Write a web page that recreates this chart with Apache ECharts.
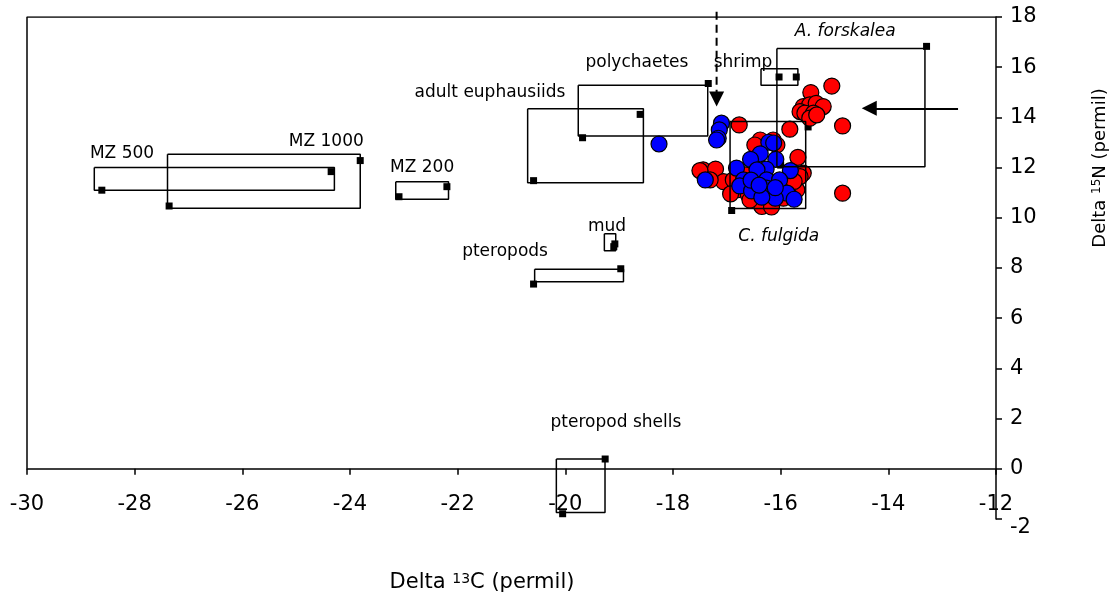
<!DOCTYPE html>
<html>
<head>
<meta charset="utf-8">
<script src="https://cdn.jsdelivr.net/npm/echarts@6/dist/echarts.min.js"></script>
<style>
html, body { margin: 0; padding: 0; background: #fff; }
#chart { width: 1116px; height: 605px; }
</style>
</head>
<body>
<div id="chart"></div>
<script>
// boxes: name, [x1, x2, y1, y2] in permil
var boxNames = ["MZ 500", "MZ 1000", "MZ 200", "adult euphausiids", "polychaetes", "shrimp",
    "A. forskalea", "C. fulgida", "mud", "pteropods", "pteropod shells"];
var boxRanges = [
    [-28.75, -24.29, 11.10, 12.00],
    [-27.39, -23.81, 10.38, 12.53],
    [-23.15, -22.17, 10.74, 11.44],
    [-20.70, -18.55, 11.40, 14.34],
    [-19.76, -17.355, 13.26, 15.28],
    [-16.365, -15.68, 15.28, 15.94],
    [-16.07, -13.32, 12.03, 16.75],
    [-16.94, -15.535, 10.37, 13.84],
    [-19.275, -19.064, 8.69, 9.36],
    [-20.57, -18.92, 7.45, 7.95],
    [-20.167, -19.263, -1.74, 0.386]
];
// the two small square points of each box
var boxMarkers = [
    [-28.61, 11.10], [-24.35, 11.84],
    [-27.36, 10.47], [-23.81, 12.28],
    [-23.09, 10.84], [-22.20, 11.24],
    [-20.59, 11.48], [-18.61, 14.12],
    [-19.68, 13.19], [-17.345, 15.35],
    [-16.03, 15.61], [-15.71, 15.61],
    [-13.29, 16.83], [-16.00, 12.10],
    [-16.91, 10.29], [-15.49, 13.62],
    [-19.08, 8.96], [-19.10, 8.85],
    [-20.59, 7.36], [-18.97, 7.97],
    [-19.26, 0.39], [-20.05, -1.79]
];
// label anchor (text centre) for each box
var labelPos = [
    [-28.235, 12.57], [-24.44, 13.03], [-22.66, 12.01], [-21.40, 15.00], [-18.67, 16.18],
    [-16.70, 16.18], [-14.80, 17.42], [-16.035, 9.25], [-19.225, 9.65], [-21.12, 8.65], [-19.06, 1.84]
];
var italicNames = ["A. forskalea", "C. fulgida"];

// individual samples
var redPoints = [
    [-15.05, 15.25], [-15.44, 14.99], [-15.58, 14.43], [-15.46, 14.50], [-15.34, 14.56],
    [-15.21, 14.43], [-15.64, 14.23], [-15.55, 14.17], [-15.39, 14.17], [-15.46, 13.97],
    [-15.33, 14.10], [-14.85, 13.66], [-16.77, 13.70], [-15.83, 13.53], [-15.68, 12.41],
    [-15.58, 11.78], [-14.85, 10.98], [-17.44, 11.91], [-17.21, 11.94], [-17.06, 11.44],
    [-17.31, 11.51], [-17.50, 11.88], [-16.38, 13.10], [-16.14, 13.10], [-16.07, 12.90],
    [-15.64, 11.64], [-15.70, 11.11], [-15.82, 10.84], [-16.82, 11.11], [-16.88, 11.51],
    [-16.60, 10.91], [-16.38, 10.65], [-16.17, 10.65], [-15.95, 10.78], [-16.35, 10.45],
    [-16.57, 10.71], [-16.17, 10.43], [-16.66, 11.71], [-16.48, 12.90], [-16.93, 10.95],
    [-15.75, 11.45]
];
var bluePoints = [
    [-17.10, 13.77], [-17.14, 13.50], [-17.16, 13.17], [-17.19, 13.10], [-18.26, 12.94],
    [-16.22, 13.01], [-16.38, 12.55], [-16.56, 12.33], [-16.09, 12.33], [-16.27, 11.94],
    [-15.82, 11.88], [-16.82, 11.98], [-16.44, 11.91], [-17.40, 11.51], [-16.69, 11.51],
    [-16.26, 11.51], [-16.02, 11.51], [-16.76, 11.27], [-16.54, 11.07], [-16.26, 11.18],
    [-15.88, 10.98], [-15.75, 10.74], [-16.10, 10.78], [-16.35, 10.82], [-16.55, 11.50],
    [-16.13, 12.98], [-16.40, 11.30], [-16.10, 11.20]
];

// arrows: [start, end] (end = centre of the head)
var dashedArrow = [[-17.19, 18.21], [-17.19, 14.73]];
var solidArrow = [[-12.705, 14.36], [-14.355, 14.36]];

var xMin = -30, xMax = -12, xStep = 2;
var yMin = -2, yMax = 18, yStep = 2;

var FONT = "DejaVu Sans";
var black = "#000";

var series = [];

// top and left frame lines
series.push({
    type: "line",
    data: [[xMin, 0], [xMin, yMax], [xMax, yMax]],
    symbol: "none",
    silent: true,
    lineStyle: { color: black, width: 1.5 }
});

// box outlines
for (var i = 0; i < boxRanges.length; i++) {
    var b = boxRanges[i];
    series.push({
        type: "line",
        data: [[b[0], b[3]], [b[1], b[3]], [b[1], b[2]], [b[0], b[2]], [b[0], b[3]]],
        symbol: "none",
        silent: true,
        lineStyle: { color: black, width: 1.5 }
    });
}

series.push({
    type: "scatter",
    data: boxMarkers,
    symbol: "rect",
    symbolSize: 7,
    silent: true,
    itemStyle: { color: black, opacity: 1 }
});

series.push({
    type: "scatter",
    data: redPoints,
    symbolSize: 16,
    itemStyle: { color: "#ff0000", borderColor: black, borderWidth: 1.2, opacity: 1 }
});

series.push({
    type: "scatter",
    data: bluePoints,
    symbolSize: 16,
    itemStyle: { color: "#0000ff", borderColor: black, borderWidth: 1.2, opacity: 1 }
});

// text labels
var labelData = [];
for (var j = 0; j < boxNames.length; j++) {
    labelData.push({
        name: boxNames[j],
        value: labelPos[j],
        label: { fontStyle: italicNames.indexOf(boxNames[j]) >= 0 ? "italic" : "normal" }
    });
}
series.push({
    type: "scatter",
    data: labelData,
    symbolSize: 1,
    silent: true,
    itemStyle: { color: "transparent", opacity: 1 },
    label: {
        show: true,
        position: "inside",
        formatter: "{b}",
        color: black,
        opacity: 1,
        fontFamily: FONT,
        fontSize: 17
    }
});

// dashed shaft (runs above the frame, so no clipping)
series.push({
    type: "line",
    data: dashedArrow,
    symbol: "none",
    silent: true,
    clip: false,
    lineStyle: { color: black, width: 2, type: [8, 5] }
});

function arrowHead(p0, p1) {
    return {
        type: "line",
        data: [],
        symbol: "none",
        silent: true,
        markLine: {
            silent: true,
            symbol: ["none", "triangle"],
            symbolSize: 15,
            label: { show: false },
            lineStyle: { color: black, width: 2, type: "solid" },
            data: [[{ coord: p0 }, { coord: p1 }]]
        }
    };
}
// short lead-in for the dashed head, full line for the solid one
var dashedLead = dashedArrow[1][1] + 0.06;
series.push(arrowHead([dashedArrow[1][0], dashedLead], dashedArrow[1]));
series.push(arrowHead(solidArrow[0], solidArrow[1]));

var chart = echarts.init(document.getElementById("chart"), null, { renderer: "canvas" });
chart.setOption({
    animation: false,
    backgroundColor: "#fff",
    grid: { left: 27, right: 120, top: 17, bottom: 86, containLabel: false },
    xAxis: {
        type: "value",
        min: xMin, max: xMax, interval: xStep,
        axisLine: { show: true, onZero: true, lineStyle: { color: black, width: 1.5 } },
        axisTick: { show: true, length: 6, lineStyle: { color: black, width: 1.5 } },
        axisLabel: { margin: -25, color: black, fontFamily: FONT, fontSize: 21, showMinLabel: true, showMaxLabel: true },
        splitLine: { show: false }
    },
    yAxis: {
        type: "value",
        position: "right",
        min: yMin, max: yMax, interval: yStep,
        axisLine: { show: true, onZero: false, lineStyle: { color: black, width: 1.5 } },
        axisTick: { show: true, length: 6, lineStyle: { color: black, width: 1.5 } },
        axisLabel: {
            margin: 14, color: black, fontFamily: FONT, fontSize: 21, showMinLabel: true, showMaxLabel: true,
            // the bottom label sits a little lower, clear of the x axis "-12"
            formatter: function (v) { return v === yMin ? "{low|" + v + "}" : String(v); },
            rich: { low: { fontFamily: FONT, fontSize: 21, color: black, padding: [18, 0, 0, 0] } }
        },
        splitLine: { show: false }
    },
    graphic: [
        {
            type: "text",
            x: 482, y: 583,
            style: {
                text: "{a|Delta }{s|13}{a|C (permil)}",
                rich: {
                    a: { fontFamily: FONT, fontSize: 21, fill: black },
                    s: { fontFamily: FONT, fontSize: 14, fill: black, verticalAlign: "top" }
                },
                align: "center", verticalAlign: "middle",
                textAlign: "center", textVerticalAlign: "middle"
            }
        },
        {
            type: "text",
            x: 1100, y: 168,
            rotation: Math.PI / 2,
            style: {
                text: "{a|Delta }{s|15}{a|N (permil)}",
                rich: {
                    a: { fontFamily: FONT, fontSize: 18, fill: black },
                    s: { fontFamily: FONT, fontSize: 12, fill: black, verticalAlign: "top" }
                },
                align: "center", verticalAlign: "middle",
                textAlign: "center", textVerticalAlign: "middle"
            }
        }
    ],
    series: series
});
</script>
</body>
</html>
